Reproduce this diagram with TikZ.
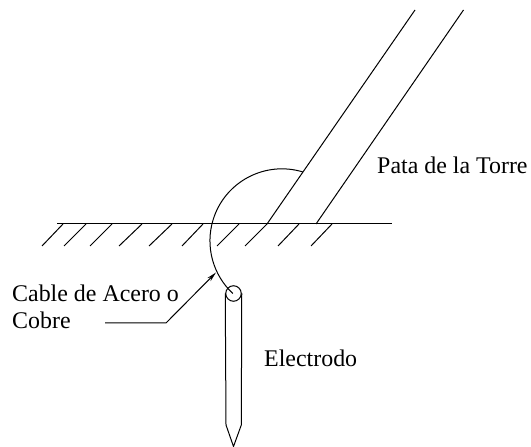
\documentclass[tikz,border=0pt]{standalone}
\usepackage{fontspec}
\setmainfont{Liberation Serif}
\usetikzlibrary{arrows.meta}
\tikzset{
  line/.style={line width=1bp},
  lbl/.style={anchor=base west,inner sep=0pt,font=\fontsize{24}{26}\selectfont}
}
\begin{document}
\begin{tikzpicture}[x=1bp,y=1bp]
      \useasboundingbox (0,0) rectangle (531,447);
      \draw
        (57,223) coordinate (g1)
        (392,223) coordinate (g2)
        (267,223) coordinate (l1)
        (316,223) coordinate (r1)
        (415,437) coordinate (l2)
        (463.5,437) coordinate (r2)
        (303,275) coordinate (joint)
        (105,124) coordinate (tail)
        (166,124) coordinate (knee)
        (216,174.5) coordinate (tip);
      \node[lbl] (pata) at (377,273.7) {Pata de la Torre};
      \node[lbl] (cable) at (12,145) {Cable de Acero o};
      \node[lbl] (cobre) at (12,118) {Cobre};
      \node[lbl] (electrodo) at (264,80) {Electrodo};
      \node[draw,line,circle,minimum size=15.5bp,inner sep=0pt] (ojo) at (233.5,153.5) {};
      \begin{scope}[line]
        \draw (g1) to (g2);
        \draw (l1) to (l2);
        \draw (r1) to (r2);
        \foreach \a/\b in {42/63,64/86,90/112,119/142,149/172,182/203,217/239,245/267,278/299,311/332}
          \draw (\a,201) to (\b,223);
        \draw (joint) arc[start angle=73,end angle=227,radius=72bp];
        \draw (ojo.west) -- (226,22) -- (233.5,0.5) -- (241.3,22) -- (ojo.east);
        \draw[-{Stealth[length=10bp,width=4.5bp]}] (tail) -- (knee) -- (tip);
      \end{scope}
    \end{tikzpicture}
\end{document}
